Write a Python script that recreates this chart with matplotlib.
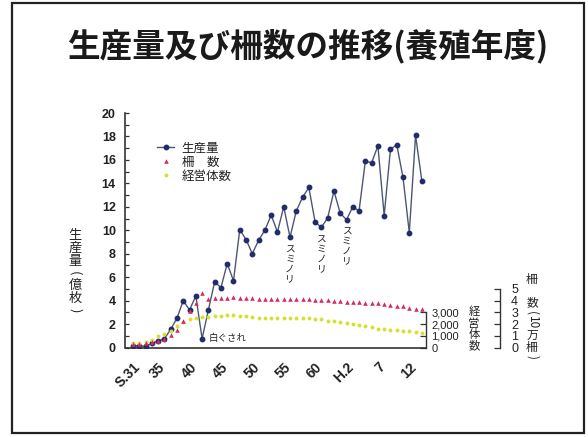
import numpy as np
import matplotlib
matplotlib.use("Agg")
import matplotlib.pyplot as plt
from matplotlib.patches import Rectangle
from matplotlib.ticker import MultipleLocator, FixedLocator, FuncFormatter

plt.rcParams['font.family'] = ['Noto Sans CJK JP', 'DejaVu Sans']

# ---- data (養殖年度 S.31 .. H.14) ----
years = np.arange(1956, 2003)

# 生産量 (億枚)
production = [0.15, 0.15, 0.10, 0.35, 0.55, 0.75, 1.55, 2.5, 4.0, 3.2,
              4.4, 0.75, 3.2, 5.6, 5.1, 7.15, 5.7, 10.05, 9.2, 8.0,
              9.15, 10.0, 11.3, 9.85, 12.0, 9.4, 11.65, 12.8, 13.65, 10.7,
              10.25, 11.05, 13.35, 11.45, 10.9, 12.0, 11.65, 15.9, 15.75, 17.2,
              11.25, 16.9, 17.3, 14.5, 9.8, 18.1, 14.2]

# 柵数 (10万柵)
sakusu = [0.27, 0.30, 0.36, 0.45, 0.55, 0.70, 1.05, 1.5, 2.28, 3.14,
          3.82, 4.62, 4.15, 4.25, 4.25, 4.25, 4.28, 4.25, 4.22, 4.20,
          4.15, 4.15, 4.12, 4.12, 4.12, 4.12, 4.10, 4.10, 4.10, 4.08,
          4.05, 4.05, 4.00, 3.95, 3.90, 3.88, 3.85, 3.82, 3.80, 3.78,
          3.72, 3.62, 3.58, 3.52, 3.35, 3.25, 3.28]

# 経営体数
keieitai = [410, 420, 480, 600, 1000, 1150, 1400, 1850, 2200, 2400,
            2550, 2580, 2630, 2680, 2720, 2750, 2750, 2720, 2680, 2600,
            2520, 2520, 2500, 2500, 2500, 2500, 2500, 2480, 2480, 2450,
            2400, 2300, 2220, 2150, 2050, 2000, 1920, 1820, 1720, 1620,
            1550, 1500, 1470, 1430, 1400, 1320, 1200]

tick_years = [1956, 1960, 1965, 1970, 1975, 1980, 1985, 1990, 1995, 2000]
tick_labels = ["S.31", "35", "40", "45", "50", "55", "60", "H.2", "7", "12"]

sumi_years = [1981, 1986, 1990]     # スミノリ
shiro_year = 1967                   # 白ぐされ

W, H = 588, 437
fig = plt.figure(figsize=(W / 100, H / 100), dpi=100)
fig.patch.set_facecolor("white")


def fx(px):
    return px / W


def fy(py):
    return 1 - py / H


def vtext(x, y_top, items, size, color="#222"):
    """Stack characters top-to-bottom; items are (text, step_px, rotation)."""
    y = y_top
    for txt, step, rot in items:
        if txt:
            fig.text(fx(x), fy(y + step / 2), txt, fontsize=size, color=color,
                     ha="center", va="center", rotation=rot,
                     rotation_mode="anchor")
        y += step


# slide frame
fig.patches.append(Rectangle((fx(12), fy(433)), fx(584) - fx(12), fy(3) - fy(433),
                             transform=fig.transFigure, fill=False,
                             edgecolor="#222", linewidth=1.6))

fig.text(fx(308), fy(46), "生産量及び柵数の推移(養殖年度)", fontsize=23.5,
         fontweight="bold", color="#1a1a1a", ha="center", va="center")

ax = fig.add_axes([fx(125.5), fy(347.5), fx(426) - fx(125.5), fy(113) - fy(347.5)])
ax.set_xlim(1954.8, 2002.66)
ax.set_ylim(0, 20)

num_font = dict(family="Liberation Sans", size=9, weight="bold")

ax.plot(years, production, color="#4d5775", linewidth=1.0, marker="o",
        markersize=3.2, markerfacecolor="#232c6a", markeredgecolor="#232c6a",
        label="生産量", zorder=4)

ax2 = ax.twinx()
ax2.set_ylim(0, 20000)
ax2.plot(years, keieitai, linestyle="none", marker="o", markersize=2.8,
         color="#d6e030", markeredgewidth=0, label="経営体数", zorder=2)

ax3 = ax.twinx()
ax3.set_ylim(0, 20)
ax3.plot(years, sakusu, linestyle="none", marker="^", markersize=3.3,
         color="#d42a66", markeredgewidth=0, label="柵\u3000数", zorder=3)

# main axes styling
for s in ["top", "right"]:
    ax.spines[s].set_visible(False)
for s in ["left", "bottom"]:
    ax.spines[s].set_color("#333")
    ax.spines[s].set_linewidth(1.2)
ax.yaxis.set_major_locator(MultipleLocator(2))
ax.yaxis.set_minor_locator(MultipleLocator(1))
ax.tick_params(axis="y", which="both", direction="in", length=3, width=0.9,
               colors="#333", pad=7)
ax.tick_params(axis="x", length=0, pad=9)
for lab in ax.get_yticklabels():
    lab.set(**num_font, color="#222")
ax.set_xticks(tick_years)
ax.set_xticklabels(tick_labels, rotation=45, ha="right", va="top",
                   rotation_mode="anchor", family="Liberation Sans", size=10,
                   weight="bold", color="#222")

# 経営体数 axis on the right spine
for s in ["top", "left", "bottom"]:
    ax2.spines[s].set_visible(False)
ax2.spines["right"].set_bounds(0, 3000)
ax2.spines["right"].set_color("#333")
ax2.spines["right"].set_linewidth(1.0)
ax2.yaxis.set_major_locator(FixedLocator([0, 1000, 2000, 3000]))
ax2.yaxis.set_major_formatter(FuncFormatter(lambda v, p: f"{int(v):,}"))
ax2.tick_params(axis="y", direction="in", length=4, width=0.9, colors="#333", pad=4)
for lab in ax2.get_yticklabels():
    lab.set(family="Liberation Sans", size=8, color="#222")

# 柵数 axis further right
for s in ["top", "left", "bottom"]:
    ax3.spines[s].set_visible(False)
ax3.spines["right"].set_position(("axes", (500 - 125.5) / (426 - 125.5)))
ax3.spines["right"].set_bounds(0, 5)
ax3.spines["right"].set_color("#333")
ax3.spines["right"].set_linewidth(1.0)
ax3.yaxis.set_major_locator(FixedLocator([0, 1, 2, 3, 4, 5]))
ax3.tick_params(axis="y", direction="in", length=4, width=0.9, colors="#333", pad=8)
for lab in ax3.get_yticklabels():
    lab.set(family="Liberation Sans", size=9, color="#222")

# annotations
prod = dict(zip(years.tolist(), production))
for yr in sumi_years:
    ax.annotate("ス\nミ\nノ\nリ", xy=(yr, prod[yr]), xytext=(0, -5),
                textcoords="offset points", ha="center", va="top",
                fontsize=7, linespacing=0.95, color="#222", zorder=5)
ax.annotate("白ぐされ", xy=(shiro_year, prod[shiro_year]), xytext=(5, 0),
            textcoords="offset points", ha="left", va="center",
            fontsize=6.8, color="#222", zorder=5)

# legend
handles = [ax.get_lines()[0], ax3.get_lines()[0], ax2.get_lines()[0]]
leg = ax.legend(handles, [h.get_label() for h in handles], loc="upper left",
                bbox_to_anchor=(0.075, 0.915), frameon=False, fontsize=9,
                handlelength=1.4, handletextpad=0.6, labelspacing=0.08,
                markerscale=1.0, borderpad=0.2)
for t in leg.get_texts():
    t.set_color("#222")

# vertical axis titles
vtext(75, 229, [("生", 13, 0), ("産", 13, 0), ("量", 13, 0), ("(", 11, 270),
                ("億", 13, 0), ("枚", 13, 0), (")", 11, 270)], 9.5)
vtext(474, 306, [("経", 11.5, 0), ("営", 11.5, 0), ("体", 11.5, 0), ("数", 11.5, 0)], 8.2)
vtext(532, 272, [("柵", 14, 0), ("", 10, 0), ("数", 13, 0), ("(", 8, 270),
                 ("10", 12, 270), ("万", 12, 0), ("柵", 12, 0), (")", 8, 270)], 8.5)

fig.savefig("out.png", dpi=100, facecolor="white")
